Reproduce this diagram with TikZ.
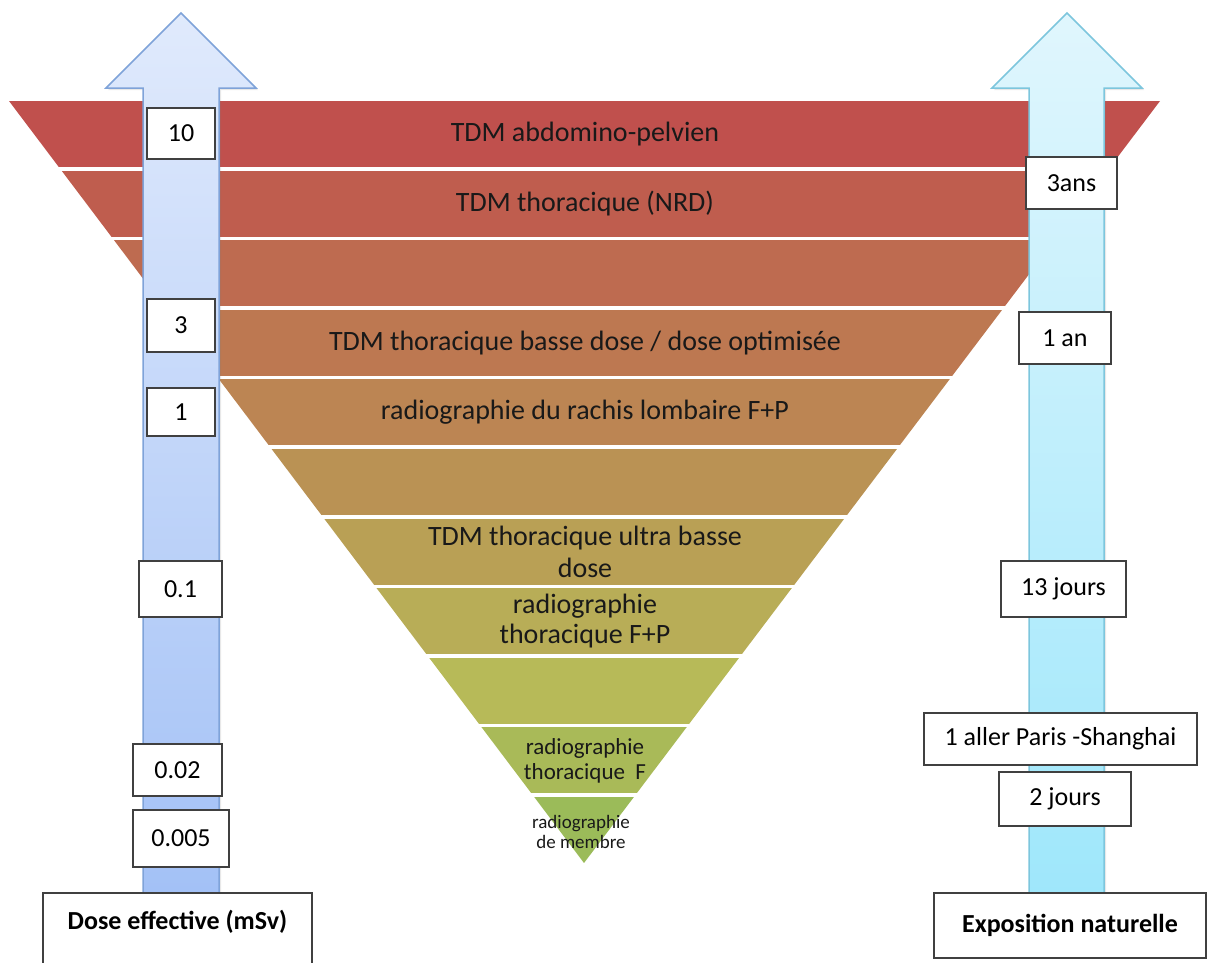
\documentclass[tikz,border=0pt]{standalone}
\usepackage{fontspec}
\setmainfont{Carlito}
\usetikzlibrary{shadows}

\definecolor{bandA}{RGB}{192,80,77}
\definecolor{bandB}{RGB}{191,93,78}
\definecolor{bandC}{RGB}{190,107,80}
\definecolor{bandD}{RGB}{189,120,81}
\definecolor{bandE}{RGB}{188,133,83}
\definecolor{bandF}{RGB}{186,146,84}
\definecolor{bandG}{RGB}{185,160,85}
\definecolor{bandH}{RGB}{184,173,87}
\definecolor{bandI}{RGB}{183,186,88}
\definecolor{bandJ}{RGB}{169,186,88}
\definecolor{bandK}{RGB}{155,187,89}
\definecolor{doseline}{RGB}{127,163,217}
\definecolor{dosetop}{RGB}{224,234,252}
\definecolor{dosebot}{RGB}{163,193,246}
\definecolor{natline}{RGB}{125,198,221}
\definecolor{nattop}{RGB}{224,246,253}
\definecolor{natbot}{RGB}{159,231,251}

\tikzset{
  valbox/.style={draw=black!75, line width=1.5pt, fill=white, inner sep=0pt,
    font=\fontsize{26}{30}\selectfont},
  bandtext/.style={align=center, text=black!90, font=\fontsize{28}{32}\selectfont},
  axistext/.style={font=\bfseries\fontsize{26}{30}\selectfont},
  arrowshadow/.style={drop shadow={shadow xshift=2pt, shadow yshift=-2pt, opacity=0.18}},
}

\begin{document}
\begin{tikzpicture}[x=1pt,y=-1pt]

\newcommand\TOPY{101}
\newcommand\BANDH{69.6}
\newcommand\FILLH{66}
\newcommand\MIDX{585}

\useasboundingbox (0,0) rectangle (1211,962);

%% pyramid bands
\begin{scope}
\clip (9,\TOPY) -- (1160,\TOPY) -- (584,863) -- cycle;
\fill[bandA] (0,\TOPY+0*\BANDH) rectangle (1211,\TOPY+0*\BANDH+\FILLH);
\fill[bandB] (0,\TOPY+1*\BANDH) rectangle (1211,\TOPY+1*\BANDH+\FILLH);
\fill[bandC] (0,\TOPY+2*\BANDH) rectangle (1211,\TOPY+2*\BANDH+\FILLH);
\fill[bandD] (0,\TOPY+3*\BANDH) rectangle (1211,\TOPY+3*\BANDH+\FILLH);
\fill[bandE] (0,\TOPY+4*\BANDH) rectangle (1211,\TOPY+4*\BANDH+\FILLH);
\fill[bandF] (0,\TOPY+5*\BANDH) rectangle (1211,\TOPY+5*\BANDH+\FILLH);
\fill[bandG] (0,\TOPY+6*\BANDH) rectangle (1211,\TOPY+6*\BANDH+\FILLH);
\fill[bandH] (0,\TOPY+7*\BANDH) rectangle (1211,\TOPY+7*\BANDH+\FILLH);
\fill[bandI] (0,\TOPY+8*\BANDH) rectangle (1211,\TOPY+8*\BANDH+\FILLH);
\fill[bandJ] (0,\TOPY+9*\BANDH) rectangle (1211,\TOPY+9*\BANDH+\FILLH);
\fill[bandK] (0,\TOPY+10*\BANDH) rectangle (1211,\TOPY+10*\BANDH+\FILLH);
\end{scope}

%% band labels
\node[bandtext] (abdo) at (\MIDX,\TOPY+0*\BANDH+33) {TDM abdomino-pelvien};
\node[bandtext] (thornrd) at (\MIDX,\TOPY+1*\BANDH+33) {TDM thoracique (NRD)};
\node[bandtext] (thorbasse) at (\MIDX,\TOPY+3*\BANDH+33) {TDM thoracique basse dose / dose optimisée};
\node[bandtext] (rachis) at (\MIDX,\TOPY+4*\BANDH+33) {radiographie du rachis lombaire F+P};
\node[bandtext] (thorultra) at (\MIDX,\TOPY+6*\BANDH+33) {TDM thoracique ultra basse\\dose};
\node[bandtext, font=\fontsize{28}{30}\selectfont] (radiofp) at (\MIDX,\TOPY+7*\BANDH+33) {radiographie\\thoracique F+P};
\node[bandtext, font=\fontsize{23}{25}\selectfont] (radiof) at (\MIDX,\TOPY+9*\BANDH+33) {radiographie\\thoracique~ F};
\node[bandtext, font=\fontsize{19}{20}\selectfont] (membre) at (581,\TOPY+10*\BANDH+35) {radiographie\\de membre};

%% dose arrow
\draw[doseline, line width=1.5pt, top color=dosetop, bottom color=dosebot, arrowshadow]
  (143,893) -- (143,88) -- (106,88) -- (181,13) -- (256,88) -- (219,88) -- (219,893) -- cycle;

%% natural exposure arrow
\draw[natline, line width=1.5pt, top color=nattop, bottom color=natbot, arrowshadow]
  (1029,893) -- (1029,88) -- (992,88) -- (1067,13) -- (1142,88) -- (1104,88) -- (1104,893) -- cycle;

%% dose values
\node[valbox, minimum width=68pt, minimum height=51pt] (dten) at (181,133.5) {10};
\node[valbox, minimum width=68pt, minimum height=53pt] (dthree) at (181,325.5) {3};
\node[valbox, minimum width=68pt, minimum height=48pt] (done) at (181,412) {1};
\node[valbox, minimum width=83pt, minimum height=56pt] (dtenth) at (180.5,589) {0.1};
\node[valbox, minimum width=89pt, minimum height=52pt] (dtwo) at (177.5,770) {0.02};
\node[valbox, minimum width=96pt, minimum height=57pt] (dfive) at (181,838.5) {0.005};

%% natural equivalents
\node[valbox, minimum width=91pt, minimum height=52pt] (threeans) at (1071.5,183) {3ans};
\node[valbox, minimum width=92pt, minimum height=52pt] (onean) at (1065,338) {1 an};
\node[valbox, minimum width=125pt, minimum height=56pt] (thirteen) at (1063.5,589) {13 jours};
\node[valbox, minimum width=273pt, minimum height=52pt] (shanghai) at (1060.5,739) {1 aller Paris -Shanghai};
\node[valbox, minimum width=132pt, minimum height=54pt] (twojours) at (1065,799) {2 jours};

%% axis captions
\draw[black!75, line width=1.5pt, fill=white] (43,893) rectangle (312,1000);
\node[axistext] (dose) at (177.5,922) {Dose effective (mSv)};
\node[valbox, axistext, minimum width=272pt, minimum height=65pt] (expo) at (1070,925.5) {Exposition naturelle};

\end{tikzpicture}
\end{document}
